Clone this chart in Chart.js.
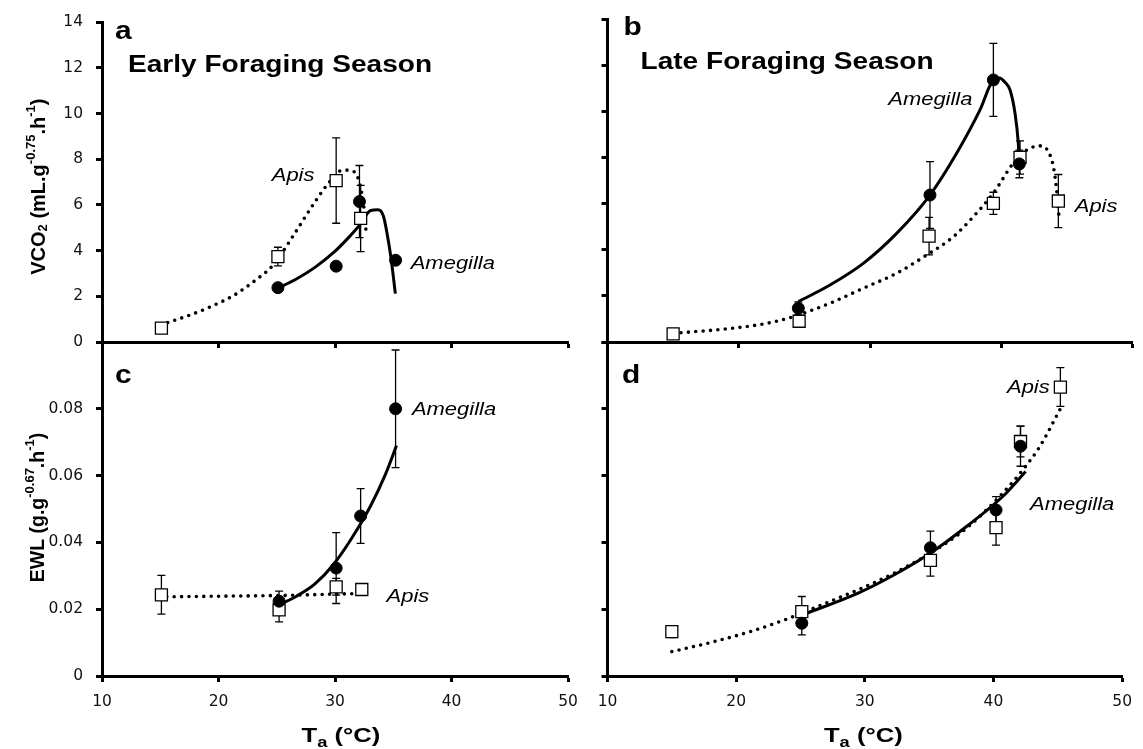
<!DOCTYPE html>
<html><head><meta charset="utf-8">
<script src="https://cdn.jsdelivr.net/npm/chart.js@4.4.1/dist/chart.umd.min.js"></script>
<style>
html,body{margin:0;padding:0;background:#fff;}
#wrap{position:relative;width:1143px;height:749px;overflow:hidden;background:#fff;}
#wrap canvas{position:absolute;left:0;top:0;}
</style></head><body>
<div id="wrap">
  <canvas id="cA" width="1143" height="749"></canvas>
  <canvas id="cB" width="1143" height="749"></canvas>
  <canvas id="cC" width="1143" height="749"></canvas>
  <canvas id="cD" width="1143" height="749"></canvas>
</div>
<script>
// Panel a: early season, VCO2 (mean, ±error)
const aApisT=[15.1,25.1,30.1,32.2], aApisV=[0.61,3.74,7.07,5.41], aApisE=[0,0.41,1.87,1.45];
const aAmegT=[25.1,30.1,32.1,35.2], aAmegV=[2.38,3.32,6.15,3.58], aAmegE=[0,0,1.58,0];
const aApisFitT=[15.64,17.54,19.44,21.34,23.24,24.66,26.41,28.31,29.57,30.68,31.63,32.17,32.58,32.68];
const aApisFitV=[0.85,1.18,1.57,2.05,2.73,3.35,4.65,6.16,7.03,7.53,7.46,6.81,5.44,4.72];
const aAmegFitT=[25.2,26.72,28.31,29.89,31.16,32.11,33.06,33.69,34.16,34.48,34.8,35.18];
const aAmegFitV=[2.38,2.77,3.28,3.92,4.57,5.12,5.76,5.79,5.51,4.72,3.71,2.12];

// Panel b: late season, VCO2
const bApisT=[15,24.6,34.5,39.4,41.43,44.35], bApisV=[0.35,0.9,4.59,6.01,8.0,6.11], bApisE=[0,0.2,0.81,0.48,0.72,1.15];
const bAmegT=[24.54,34.57,39.4,41.38], bAmegV=[1.46,6.37,11.36,7.72], bAmegE=[0.28,1.45,1.58,0.6];
const bApisFitT=[15.6,19.6,22.5,24.16,26.95,29.49,32.03,34.32,36.35,37.87,39.4,40.92,41.94,42.95,43.59,43.97,44.22,44.42];
const bApisFitV=[0.4,0.6,0.85,1.1,1.68,2.33,2.98,3.77,4.56,5.43,6.45,7.75,8.32,8.5,8.25,7.6,6.59,5.29];
const bAmegFitT=[24.54,26.95,29.49,32.03,34.57,36.6,38.38,39.4,39.85,40.3,40.67,41.05,41.3,41.38];
const bAmegFitV=[1.75,2.47,3.41,4.71,6.37,8.18,10.06,11.36,11.44,11.25,10.92,9.91,8.61,7.75];

// Panel c: early season, EWL
const cApisT=[15.1,25.2,30.1,32.3], cApisV=[0.0243,0.0198,0.0267,0.0259], cApisE=[0.0058,0.0036,0.0025,0];
const cAmegT=[25.2,30.1,32.2,35.2], cAmegV=[0.0224,0.0323,0.0479,0.080], cAmegE=[0.003,0.0106,0.0082,0.0176];
const cApisFitT=[15.56,20.33,25.17,29.87,32.26], cApisFitV=[0.0237,0.0239,0.0241,0.0245,0.0247];
const cAmegFitT=[25.26,26.69,28.28,29.87,31.46,33.05,34.32,35.28];
const cAmegFitV=[0.0214,0.0239,0.0276,0.0334,0.0414,0.0509,0.0603,0.069];

// Panel d: late season, EWL
const dApisT=[15,25.1,35.1,40.2,42.1,45.2], dApisV=[0.0133,0.0193,0.0346,0.0444,0.0702,0.0865];
const dApisE=[0.0018,0.0045,0.0047,0.0052,0.0046,0.0058];
const dAmegT=[25.1,35.1,40.2,42.1], dAmegV=[0.0158,0.0384,0.0497,0.0688], dAmegE=[0.0035,0.005,0.004,0.006];
const dApisFitT=[15.0,18.29,21.1,23.9,26.71,29.52,32.33,35.14,37.95,40.76,42.44,43.57,45.2];
const dApisFitV=[0.0073,0.0103,0.0133,0.017,0.0214,0.0259,0.0309,0.0369,0.0444,0.0549,0.0625,0.0685,0.08];
const dAmegFitT=[25.17,29.52,32.33,35.14,37.95,40.76,42.5];
const dAmegFitV=[0.0183,0.0249,0.0304,0.0369,0.0449,0.0539,0.0612];

// Axis ticks
const tempTicks=[10,20,30,40,50];
const vco2Ticks=[0,2,4,6,8,10,12,14];
const ewlTicks=[0,0.02,0.04,0.06,0.08,0.1];

// Helpers
const W=1143, H=749;
const pts=(xs,ys)=>xs.map((x,i)=>({x,y:ys[i]}));
const SANS="'Liberation Sans', Arial, sans-serif";
const TICKFONT={family:"'DejaVu Sans', sans-serif",size:15.5};
const SX=1.22; // source figure is stretched horizontally
const YBOX=80, XBOX=50; // room kept for tick labels

const marks=(xs,ys,es,sq)=>({data:pts(xs,ys),err:es,showLine:false,
  pointStyle:sq?'rect':'circle',pointRadius:sq?8.5:6,pointHoverRadius:sq?8.5:6,
  pointBackgroundColor:sq?'#fff':'#000',pointBorderColor:'#000',pointBorderWidth:sq?1.3:1});
const fit=(xs,ys,dotted)=>({data:pts(xs,ys),showLine:true,pointRadius:0,pointHoverRadius:0,
  borderColor:'#000',borderWidth:dotted?3.6:3,borderDash:dotted?[0,7.4]:[],
  borderCapStyle:dotted?'round':'butt',cubicInterpolationMode:'monotone',fill:false});

function drawRuns(ctx,list,x,y,sx,align){
  const f=r=>`bold ${r[1]}px ${SANS}`;
  let w=0; list.forEach(r=>{ctx.font=f(r); w+=ctx.measureText(r[0]).width;});
  ctx.save(); ctx.translate(x,y); ctx.scale(sx,1);
  ctx.fillStyle='#000'; ctx.textBaseline='alphabetic'; ctx.textAlign='left';
  let cx=align==='center'?-w/2:0;
  list.forEach(r=>{ctx.font=f(r); ctx.fillText(r[0],cx,r[2]); cx+=ctx.measureText(r[0]).width;});
  ctx.restore();
}

// error bars under the markers
const errBars={id:'errBars',beforeDatasetsDraw(chart){
  const {ctx}=chart, ys=chart.scales.y;
  chart.data.datasets.forEach((ds,i)=>{
    if(!ds.err) return;
    chart.getDatasetMeta(i).data.forEach((p,j)=>{
      const e=ds.err[j]; if(!e) return;
      const v=ds.data[j].y, t=ys.getPixelForValue(v+e), b=ys.getPixelForValue(v-e);
      ctx.save(); ctx.strokeStyle='#000'; ctx.lineWidth=1.3; ctx.beginPath();
      ctx.moveTo(p.x,t); ctx.lineTo(p.x,b);
      ctx.moveTo(p.x-4,t); ctx.lineTo(p.x+4,t);
      ctx.moveTo(p.x-4,b); ctx.lineTo(p.x+4,b);
      ctx.stroke(); ctx.restore();
    });
  });
}};

// letters, titles, species notes, axis titles
const panelText={id:'panelText',afterDraw(chart,args,o){
  const {ctx,chartArea:ca}=chart, xs=chart.scales.x, ys=chart.scales.y;
  if(o.letter) drawRuns(ctx,[[o.letter,26,0]],ca.left+o.letter_dx,ca.top+o.letter_dy,1.15,'left');
  if(o.title) drawRuns(ctx,[[o.title,23,0]],ca.left+o.title_dx,ca.top+50,SX,'left');
  (o.notes||[]).forEach(n=>{
    ctx.save(); ctx.font=`italic 18px ${SANS}`;
    ctx.translate(xs.getPixelForValue(n.x),ys.getPixelForValue(n.y)); ctx.scale(SX,1);
    ctx.fillStyle='#000'; ctx.textAlign='left'; ctx.fillText(n.t,0,0); ctx.restore();
  });
  if(o.yTitle){
    ctx.save(); ctx.translate(o.yTitle.x,(ca.top+ca.bottom)/2+o.yTitle.dy); ctx.rotate(-Math.PI/2);
    drawRuns(ctx,o.yTitle.runs,0,0,1,'center'); ctx.restore();
  }
  if(o.xTitle!==undefined) drawRuns(ctx,[['T',21,0],['a',15,5],[' (°C)',21,0]],(ca.left+ca.right)/2+o.xTitle,742,SX,'center');
}};

function axis(list,showLabels,fmt){
  return {type:'linear',min:list[0],max:list[list.length-1],
    afterBuildTicks:s=>{s.ticks=list.map(v=>({value:v}));},
    ticks:{display:showLabels,font:TICKFONT,color:'#111',padding:0,autoSkip:false,maxRotation:0,callback:fmt||(v=>String(v))},
    grid:{drawOnChartArea:false,drawTicks:true,tickLength:6,tickWidth:3,tickColor:'#000'},
    border:{display:true,color:'#000',width:3}};
}

// box = plot area edges in page pixels
function panel(id,box,xLab,yTicks,yLab,yFmt,datasets,text){
  const yw=yLab?YBOX:0, xh=xLab?XBOX:0;
  const x=axis(tempTicks,xLab); x.ticks.padding=11; x.afterFit=s=>{s.height=xh;};
  const y=axis(yTicks,yLab,yFmt); y.ticks.padding=13; y.afterFit=s=>{s.width=yw;};
  return new Chart(document.getElementById(id),{
    type:'scatter',
    data:{datasets},
    options:{responsive:false,animation:false,events:[],
      layout:{padding:{left:box.l-yw,top:box.t,right:W-box.r,bottom:H-box.b-xh}},
      scales:{x,y},
      plugins:{legend:{display:false},tooltip:{enabled:false},panelText:text}},
    plugins:[errBars,panelText]
  });
}

const ewlFmt=v=>v>0.09?'':String(+v.toFixed(2));

panel('cA',{l:102,t:19,r:568,b:342},false,vco2Ticks,true,null,[
  marks(aAmegT,aAmegV,aAmegE,false), marks(aApisT,aApisV,aApisE,true),
  fit(aAmegFitT,aAmegFitV,false), fit(aApisFitT,aApisFitV,true)
],{letter:'a',letter_dx:13,letter_dy:17,title:'Early Foraging Season',title_dx:26,
  notes:[{t:'Apis',x:24.57,y:7.07},{t:'Amegilla',x:36.5,y:3.21}],
  yTitle:{x:45,dy:4.5,runs:[['VCO',20,0],['2',13,2],[' (mL.g',20,0],['-0.75',13,-10],['.h',20,0],['-1',13,-10],[')',20,0]]}});

panel('cB',{l:607.5,t:19,r:1132.5,b:342},false,vco2Ticks,false,null,[
  marks(bAmegT,bAmegV,bAmegE,false), marks(bApisT,bApisV,bApisE,true),
  fit(bAmegFitT,bAmegFitV,false), fit(bApisFitT,bApisFitV,true)
],{letter:'b',letter_dx:16,letter_dy:16,title:'Late Foraging Season',title_dx:33,
  notes:[{t:'Amegilla',x:31.39,y:10.27},{t:'Apis',x:45.6,y:5.65}]});

panel('cC',{l:102,t:342,r:568,b:676},true,ewlTicks,true,ewlFmt,[
  marks(cAmegT,cAmegV,cAmegE,false), marks(cApisT,cApisV,cApisE,true),
  fit(cAmegFitT,cAmegFitV,false), fit(cApisFitT,cApisFitV,true)
],{letter:'c',letter_dx:13,letter_dy:41,
  notes:[{t:'Amegilla',x:36.6,y:0.0781},{t:'Apis',x:34.43,y:0.0222}],
  yTitle:{x:44,dy:-1.5,runs:[['EWL',19.5,0],[' (g.g',19.5,0],['-0.67',13,-10],['.h',19.5,0],['-1',13,-10],[')',19.5,0]]},
  xTitle:6});

panel('cD',{l:607.5,t:342,r:1132.5,b:676},true,ewlTicks,false,ewlFmt,[
  marks(dAmegT,dAmegV,dAmegE,false), marks(dApisT,dApisV,dApisE,true),
  fit(dAmegFitT,dAmegFitV,false), fit(dApisFitT,dApisFitV,true)
],{letter:'d',letter_dx:14.5,letter_dy:41,
  notes:[{t:'Apis',x:41.05,y:0.0847},{t:'Amegilla',x:42.84,y:0.0497}],
  xTitle:-1.5});
</script>
</body></html>
